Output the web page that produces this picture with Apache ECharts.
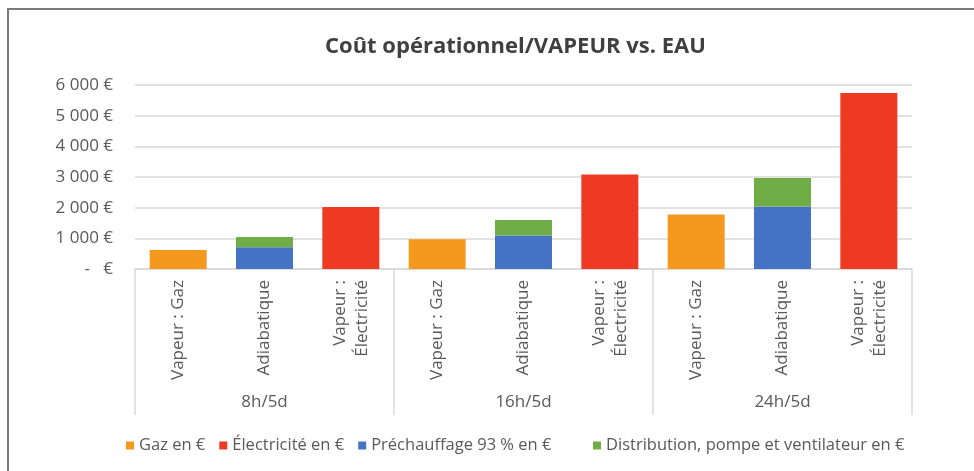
<!DOCTYPE html>
<html>
<head>
<meta charset="utf-8">
<script src="https://cdn.jsdelivr.net/npm/echarts@6/dist/echarts.min.js"></script>
<style>
  html, body { margin: 0; padding: 0; background: #ffffff; }
  #chart { width: 974px; height: 471px; }
  #frame { position: absolute; left: 7px; top: 8px; width: 980px; height: 480px;
           border-top: 2px solid #7a7a7a; border-left: 2px solid #7a7a7a; pointer-events: none; }
</style>
</head>
<body>
<div id="chart"></div>
<div id="frame"></div>
<script>
// ---- data ----
const groups = ["8h/5d", "16h/5d", "24h/5d"];
const categories = [
  "Vapeur : Gaz", "Adiabatique", "Vapeur : Électricité",
  "Vapeur : Gaz", "Adiabatique", "Vapeur : Électricité",
  "Vapeur : Gaz", "Adiabatique", "Vapeur : Électricité"
];
const gaz          = [620, null, null, 968, null, null, 1775, null, null];
const electricite  = [null, null, 2020, null, null, 3078, null, null, 5740];
const prechauffage = [null, 707, null, null, 1089, null, null, 2035, null];
const distribution = [null, 336, null, null, 509, null, null, 932, null];
const seriesNames = ["Gaz en €", "Électricité en €", "Préchauffage 93 % en €", "Distribution, pompe et ventilateur en €"];
const yTicks = { min: 0, max: 6000, interval: 1000 };

// ---- chart ----
const FONT = "'Open Sans', 'DejaVu Sans', sans-serif";
const colors = ["#F5991E", "#EE3A23", "#4472C4", "#70AD47"];
const chart = echarts.init(document.getElementById('chart'));

function fmtY(v) {
  if (v === 0) return "-   €";
  return String(v).replace(/\B(?=(\d{3})+(?!\d))/g, " ") + " €";
}
function fmtX(v) {
  return v.length > 14 ? v.replace(": ", ":\n") : v;
}

const dataArrays = [gaz, electricite, prechauffage, distribution];
const legendText = { fontFamily: FONT, fontSize: 16.5, color: '#595959' };

chart.setOption({
  animation: false,
  backgroundColor: 'transparent',
  title: {
    text: "Coût opérationnel/VAPEUR vs. EAU",
    left: 320, top: 31,
    textStyle: { fontFamily: FONT, fontSize: 22, fontWeight: 'bold', color: '#404040' }
  },
  legend: [
    {
      data: seriesNames.slice(0, 3),
      left: 121, top: 432,
      icon: 'rect', itemWidth: 8, itemHeight: 8, itemGap: 14,
      textStyle: legendText
    },
    {
      data: seriesNames.slice(3),
      left: 588, top: 432,
      icon: 'rect', itemWidth: 8, itemHeight: 8,
      textStyle: legendText
    }
  ],
  grid: [
    { left: 135, right: 62, top: 85, bottom: 202 },
    { left: 135, right: 62, top: 269, bottom: 56 }
  ],
  xAxis: [
    {
      type: 'category', gridIndex: 0, data: categories,
      axisLine: { show: true, lineStyle: { color: '#d9d9d9', width: 1.5 } },
      axisTick: { show: false },
      axisLabel: {
        rotate: 90, margin: 11, interval: 0,
        fontFamily: FONT, fontSize: 17, color: '#595959', lineHeight: 22,
        formatter: fmtX
      }
    },
    {
      type: 'category', gridIndex: 1, data: groups,
      axisLine: { show: false }, axisTick: { show: false },
      splitLine: { show: true, lineStyle: { color: '#d9d9d9', width: 1.5 } },
      axisLabel: { inside: true, margin: 4, fontFamily: FONT, fontSize: 17, color: '#595959' }
    }
  ],
  yAxis: [
    {
      type: 'value', gridIndex: 0, min: yTicks.min, max: yTicks.max, interval: yTicks.interval,
      axisLine: { show: false }, axisTick: { show: false },
      splitLine: { lineStyle: { color: '#d9d9d9', width: 1.5 } },
      axisLabel: { margin: 22, fontFamily: FONT, fontSize: 17, color: '#595959', formatter: fmtY }
    },
    { type: 'value', gridIndex: 1, show: false, splitLine: { show: false } }
  ],
  series: seriesNames.map((name, i) => ({
    name, type: 'bar', stack: 'total', xAxisIndex: 0, yAxisIndex: 0,
    data: dataArrays[i], barWidth: 57,
    itemStyle: { color: colors[i] }
  }))
});
</script>
</body>
</html>
